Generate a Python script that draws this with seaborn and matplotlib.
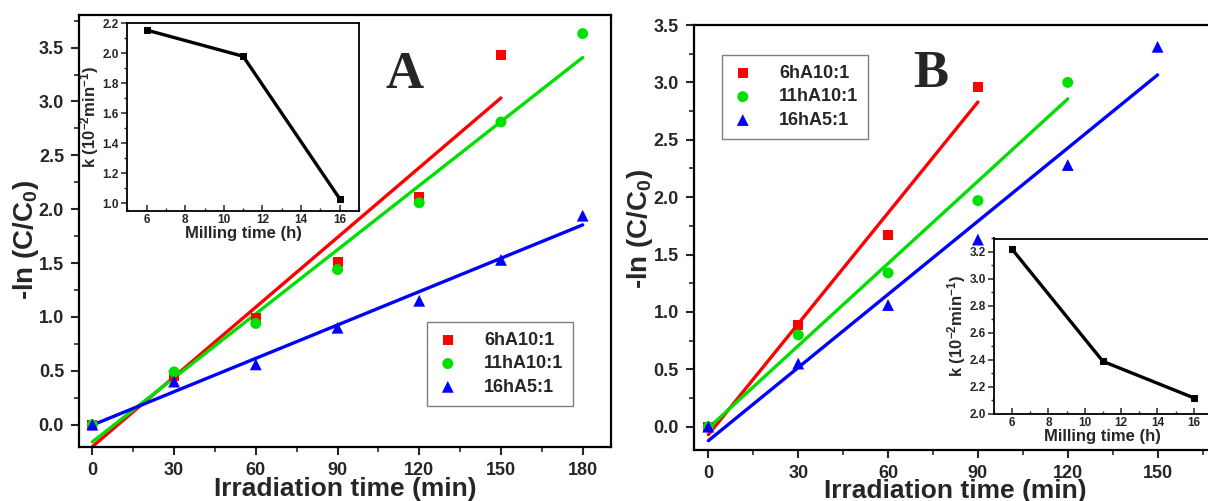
import numpy as np
import pandas as pd
import seaborn as sns
import matplotlib
matplotlib.use("Agg")
import matplotlib.pyplot as plt
from matplotlib.ticker import MultipleLocator, FormatStrFormatter

# ---- Panel A: -ln(C/C0) vs irradiation time ----
a_time = [0, 30, 60, 90, 120, 150, 180]
a_6h = [0.00, 0.45, 0.99, 1.51, 2.11, 3.43]          # 0..150 min
a_11h = [0.00, 0.49, 0.94, 1.44, 2.06, 2.81, 3.63]   # 0..180 min
a_16h = [0.00, 0.40, 0.56, 0.90, 1.15, 1.53, 1.94]   # 0..180 min

# ---- Panel B ----
b_time = [0, 30, 60, 90, 120, 150]
b_6h = [0.00, 0.89, 1.67, 2.96]                      # 0..90 min
b_11h = [0.00, 0.80, 1.34, 1.97, 3.00]               # 0..120 min
b_16h = [0.00, 0.55, 1.06, 1.63, 2.28, 3.31]         # 0..150 min

# ---- Insets: rate constant k vs milling time ----
milling_h = [6, 11, 16]
k_a = [2.155, 1.98, 1.03]
k_b = [3.22, 2.39, 2.12]

series_names = ["6hA10:1", "11hA10:1", "16hA5:1"]
colors = ["#FF0000", "#00E000", "#0000FF"]
markers = ["s", "o", "^"]
msizes = [52, 62, 72]

sns.set_style("white")
plt.rcParams["font.family"] = ["Liberation Sans", "DejaVu Sans"]
plt.rcParams["font.weight"] = "bold"
plt.rcParams["axes.labelweight"] = "bold"
plt.rcParams["mathtext.fontset"] = "custom"
plt.rcParams["mathtext.rm"] = "Liberation Sans:bold"
plt.rcParams["mathtext.it"] = "Liberation Sans:bold"
plt.rcParams["mathtext.bf"] = "Liberation Sans:bold"
plt.rcParams["mathtext.default"] = "bf"

W, H = 1208, 501
fig = plt.figure(figsize=(W / 100, H / 100), dpi=100)


def px_axes(l, t, r, b):
    return fig.add_axes([l / W, 1 - b / H, (r - l) / W, (b - t) / H])


def style_main(ax, xpad):
    for s in ax.spines.values():
        s.set_linewidth(1.6)
        s.set_color("black")
    ax.xaxis.set_major_locator(MultipleLocator(30))
    ax.xaxis.set_minor_locator(MultipleLocator(15))
    ax.yaxis.set_major_locator(MultipleLocator(0.5))
    ax.yaxis.set_minor_locator(MultipleLocator(0.25))
    ax.yaxis.set_major_formatter(FormatStrFormatter("%.1f"))
    ax.tick_params(which="major", direction="out", length=6, width=1.5,
                   labelsize=13, pad=5, bottom=True, left=True,
                   top=False, right=False)
    ax.tick_params(which="minor", direction="out", length=3.5, width=1.2,
                   bottom=True, left=True, top=False, right=False)
    for lab in ax.get_xticklabels() + ax.get_yticklabels():
        lab.set_fontweight("bold")
    ax.set_xlabel("Irradiation time (min)", fontsize=19, fontweight="bold",
                  labelpad=xpad)
    ax.set_ylabel("-ln (C/C$_0$)", fontsize=20, fontweight="bold")


def style_inset(ax, ymajor):
    for s in ax.spines.values():
        s.set_linewidth(1.3)
        s.set_color("black")
    ax.xaxis.set_major_locator(MultipleLocator(2))
    ax.xaxis.set_minor_locator(MultipleLocator(1))
    ax.yaxis.set_major_locator(MultipleLocator(ymajor))
    ax.yaxis.set_minor_locator(MultipleLocator(ymajor / 2))
    ax.yaxis.set_major_formatter(FormatStrFormatter("%.1f"))
    ax.tick_params(axis="x", which="major", direction="in", length=4,
                   width=1.1, labelsize=8.5, pad=2, bottom=True, top=False)
    ax.tick_params(axis="x", which="minor", direction="in", length=2.5,
                   width=1.0, bottom=True, top=False)
    ax.tick_params(axis="y", which="major", direction="out", length=4,
                   width=1.1, labelsize=8.5, pad=2, left=True, right=False)
    ax.tick_params(axis="y", which="minor", direction="out", length=2.5,
                   width=1.0, left=True, right=False)
    for lab in ax.get_xticklabels() + ax.get_yticklabels():
        lab.set_fontweight("bold")
    ax.set_xlabel("Milling time (h)", fontsize=12, fontweight="bold",
                  labelpad=0)
    ax.set_ylabel("k (10$^{-2}$min$^{-1}$)", fontsize=12, fontweight="bold",
                  labelpad=1)


def draw_panel(ax, time, ys):
    for name, y, c, m, s in zip(series_names, ys, colors, markers, msizes):
        x = time[:len(y)]
        sns.regplot(x=x, y=y, ax=ax, ci=None, marker=m, color=c, label=name,
                    scatter_kws={"s": s, "edgecolors": "none", "zorder": 3,
                                 "alpha": 1},
                    line_kws={"lw": 2.4, "zorder": 2})


# Panel A
axA = px_axes(79.3, 15.3, 611, 446.7)
draw_panel(axA, a_time, [a_6h, a_11h, a_16h])
axA.set_xlim(-4.8, 190.4)
axA.set_ylim(-0.204, 3.80)
style_main(axA, -1.5)
axA.yaxis.set_label_coords(-0.072, 0.48)
axA.text(0.611, 0.862, "A", transform=axA.transAxes, fontsize=38,
         fontweight="bold", family="Liberation Serif", ha="center",
         va="center")
legA = axA.legend(loc="upper left", bbox_to_anchor=(0.654, 0.289),
                  borderaxespad=0, frameon=True, fancybox=False,
                  edgecolor="#7f7f7f", framealpha=1, prop={"size": 13,
                  "weight": "bold"}, handlelength=1.2, handletextpad=1.4,
                  labelspacing=0.35, borderpad=0.55)
legA.get_frame().set_linewidth(1.0)

# Panel B
axB = px_axes(694, 25, 1217.5, 450)
draw_panel(axB, b_time, [b_6h, b_11h, b_16h])
axB.set_xlim(-4.8, 170)
axB.set_ylim(-0.203, 3.5)
style_main(axB, -2.5)
axB.yaxis.set_label_coords(-0.075, 0.52)
axB.text(0.453, 0.885, "B", transform=axB.transAxes, fontsize=38,
         fontweight="bold", family="Liberation Serif", ha="center",
         va="center")
legB = axB.legend(loc="upper left", bbox_to_anchor=(0.0535, 0.929),
                  borderaxespad=0, frameon=True, fancybox=False,
                  edgecolor="#7f7f7f", framealpha=1, prop={"size": 13,
                  "weight": "bold"}, handlelength=1.2, handletextpad=1.4,
                  labelspacing=0.35, borderpad=0.55)
legB.get_frame().set_linewidth(1.0)

# Inset A
inA = px_axes(127.3, 23.3, 359, 211.5)
inA.set_facecolor("white")
sns.lineplot(x=milling_h, y=k_a, ax=inA, color="black", lw=2.4, marker="s",
             markersize=4, markeredgecolor="black")
inA.set_xlim(5, 17)
inA.set_ylim(0.945, 2.2)
style_inset(inA, 0.2)

# Inset B
inB = px_axes(994, 238.5, 1211.8, 414)
inB.set_facecolor("white")
sns.lineplot(x=milling_h, y=k_b, ax=inB, color="black", lw=2.4, marker="s",
             markersize=4, markeredgecolor="black")
inB.set_xlim(5, 17)
inB.set_ylim(2.0, 3.3)
style_inset(inB, 0.2)

fig.savefig("out.png", dpi=100)
